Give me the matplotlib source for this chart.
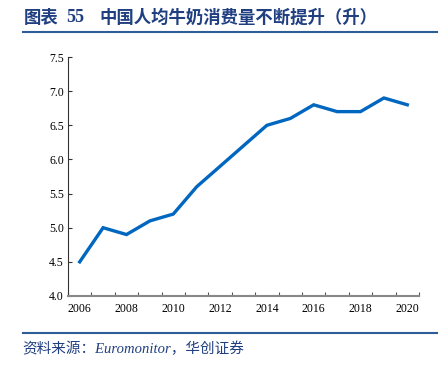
import matplotlib
matplotlib.use("Agg")
import matplotlib.pyplot as plt
from matplotlib.lines import Line2D

years = list(range(2006, 2021))
milk = [4.5, 5.0, 4.9, 5.1, 5.2, 5.6, 5.9, 6.2, 6.5, 6.6, 6.8, 6.7, 6.7, 6.9, 6.8]
yticks = [4.0, 4.5, 5.0, 5.5, 6.0, 6.5, 7.0, 7.5]
title_head = "图表"
title_num = "55"
title_body = "中国人均牛奶消费量不断提升（升）"
source = "资料来源：Euromonitor，华创证券"

W, H = 448, 370
fig = plt.figure(figsize=(W / 100, H / 100), dpi=100)
ax = fig.add_axes([68 / W, 1 - 296 / H, (419 - 68) / W, (296 - 57) / H])

x = list(range(len(years)))
ax.plot(x, milk, color="#0067C0", lw=2.4, solid_joinstyle="miter")
ax.set_xlim(-0.5, len(years) - 0.5)
ax.set_ylim(4.0, 7.5)
ax.set_yticks(yticks)
ax.set_yticklabels([f"{v:.1f}" for v in yticks], fontfamily="Liberation Serif", fontsize=8.5)
ax.set_xticks([i - 0.5 for i in range(len(years) + 1)], minor=False)
ax.set_xticklabels([""] * (len(years) + 1))
ax.set_xticks(x[::2], minor=True)
ax.set_xticklabels([str(y) for y in years[::2]], minor=True, fontfamily="Liberation Serif", fontsize=8.5)
ax.tick_params(axis="x", which="minor", length=0, pad=5)
ax.tick_params(axis="x", which="major", length=3, direction="in", color="#555555")
ax.tick_params(axis="y", length=3, direction="in", color="#333333", pad=3)
for s in ["top", "right"]:
    ax.spines[s].set_visible(False)
ax.spines["left"].set_color("#333333")
ax.spines["bottom"].set_color("#888888")
ax.spines["bottom"].set_linewidth(1.5)

cjk = ["Noto Sans CJK SC", "DejaVu Sans"]
tc = "#1F3F80"
ty = 1 - 18 / H
fig.text(24 / W, ty, title_head, fontsize=12.5, fontweight="bold", color=tc,
         family=cjk, va="center", ha="left")
fig.text(66 / W, ty, title_num, fontsize=13, fontweight="bold", color=tc,
         family="Liberation Serif", va="center", ha="left")
fig.text(99 / W, ty, title_body, fontsize=12.5, fontweight="bold", color=tc,
         family=cjk, va="center", ha="left")
fig.add_artist(Line2D([23 / W, 437 / W], [1 - 32 / H, 1 - 32 / H], color="#2E5C96", lw=1.5))
fig.add_artist(Line2D([23 / W, 437 / W], [1 - 333 / H, 1 - 333 / H], color="#2E5C96", lw=1.5))
fig.text(22 / W, 1 - 349 / H, source, fontsize=10.5, style="italic", color=tc,
         family=["Liberation Serif", "Noto Sans CJK SC"], va="center", ha="left")

fig.savefig("out.png", dpi=100)
